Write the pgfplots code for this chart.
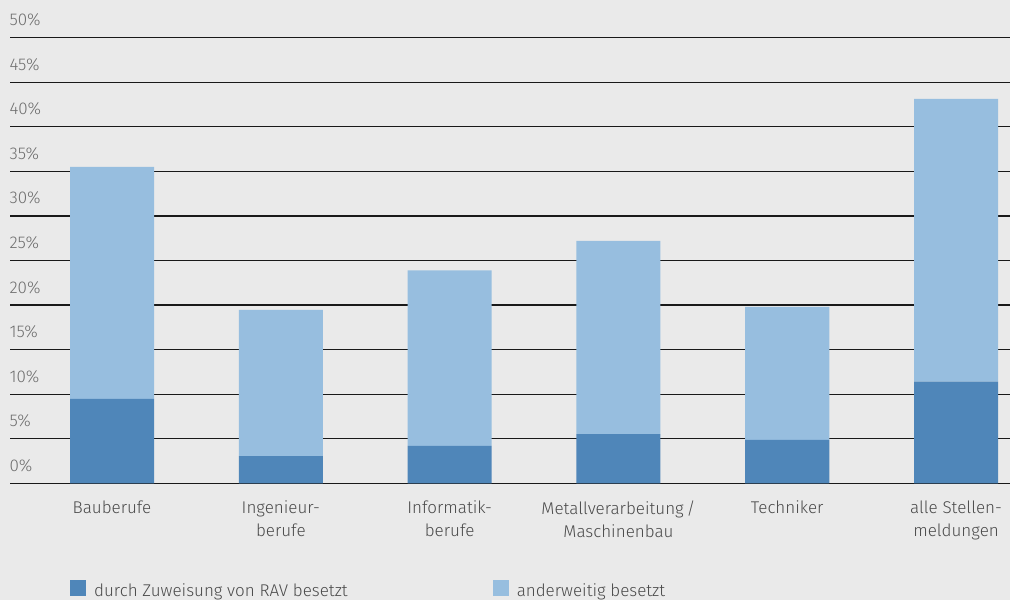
\documentclass[border=0pt]{standalone}
\usepackage{pgfplots}
\pgfplotsset{compat=1.18}
\usepackage{fontspec}
\IfFontExistsTF{Fira Sans Light}{\setmainfont{Fira Sans Light}}{\setmainfont{Fira Sans}}
\definecolor{bgc}{HTML}{EAEAEA}
\definecolor{darkb}{HTML}{4F86B9}
\definecolor{lightb}{HTML}{97BEDF}
\definecolor{ytc}{HTML}{6E6E6E}
\definecolor{xtc}{HTML}{4A4A4A}
\pgfplotstableread{
x dark light
0 9.46 26.04
1 3.06 16.39
2 4.19 19.71
3 5.53 21.67
4 4.86 14.94
5 11.40 31.73
}\datatab
\begin{document}
\begin{tikzpicture}[x=1pt,y=1pt]
\path[use as bounding box, fill=bgc] (0,0) rectangle (1010,600);
\begin{axis}[
  at={(10pt,116.7pt)}, anchor=south west,
  scale only axis, width=1000pt, height=445.6pt,
  ybar stacked, bar width=84pt,
  xmin=-0.6043, xmax=5.3197, ymin=0, ymax=50,
  axis line style={draw=none}, tick style={draw=none},
  ymajorgrids, grid style={black!90, line width=1.3pt},
  ytick={0,5,...,50},
  yticklabels={0\%,5\%,10\%,15\%,20\%,25\%,30\%,35\%,40\%,45\%,50\%},
  yticklabel style={anchor=base west, xshift=-4pt, yshift=12pt, text=ytc, font=\fontsize{17}{20}\selectfont},
  xtick={0,1,2,3,4,5},
  xticklabels={Bauberufe,{Ingenieur-\\berufe},{Informatik-\\berufe},{Metallverarbeitung\,/\\Maschinenbau},Techniker,{alle Stellen-\\meldungen}},
  xticklabel style={align=center, anchor=north, yshift=-14pt, text=xtc, font=\fontsize{17}{23}\selectfont},
  legend style={at={(0.06,-0.2155)}, anchor=north west, draw=none, fill=none, inner sep=0pt,
    legend columns=2, font=\fontsize{17}{20}\selectfont, text=xtc,
    /tikz/every odd column/.append style={column sep=6pt},
    /tikz/every even column/.append style={column sep=143pt}},
  legend cell align=left,
  legend image code/.code={\path[#1, draw=none] (0pt,-5pt) rectangle (16pt,11pt);},
]
\addplot[fill=darkb, draw=none] table[x=x, y=dark] {\datatab};
\addplot[fill=lightb, draw=none] table[x=x, y=light] {\datatab};
\legend{durch Zuweisung von RAV besetzt, anderweitig besetzt}
\end{axis}
\end{tikzpicture}
\end{document}
